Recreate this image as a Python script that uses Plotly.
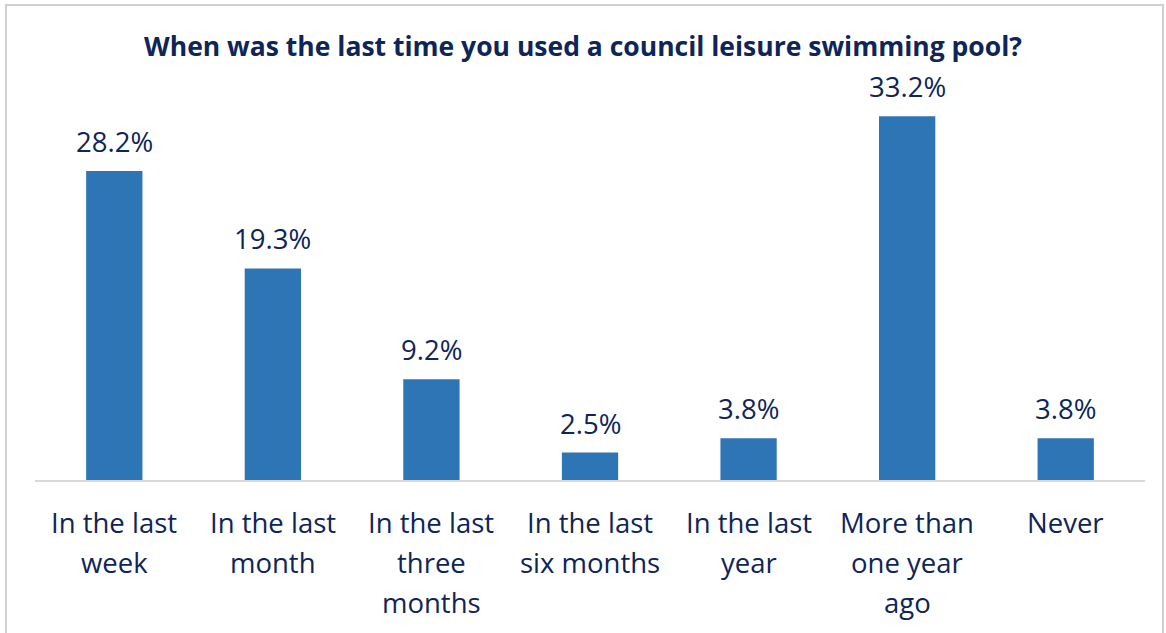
import plotly.graph_objects as go

categories = [
    "In the last week",
    "In the last month",
    "In the last three months",
    "In the last six months",
    "In the last year",
    "More than one year ago",
    "Never",
]
tick_lines = [
    ["In the last", "week"],
    ["In the last", "month"],
    ["In the last", "three", "months"],
    ["In the last", "six months"],
    ["In the last", "year"],
    ["More than", "one year", "ago"],
    ["Never"],
]
values = [28.2, 19.3, 9.2, 2.5, 3.8, 33.2, 3.8]

W, H = 1166, 633
ML, MR, MT, MB = 35, 21, 80, 153
NAVY = "#0E2557"
FONT = "Open Sans"

fig = go.Figure(
    go.Bar(
        x=categories,
        y=values,
        marker=dict(color="#2E75B6", line=dict(width=0)),
        width=0.355,
        hoverinfo="skip",
    )
)

# value labels above the bars
for c, v in zip(categories, values):
    fig.add_annotation(
        x=c, y=v, text=f"{v:.1f}%", showarrow=False,
        yanchor="bottom", yshift=9,
        font=dict(family=FONT, size=27.5, color=NAVY),
    )

# category labels, one annotation per line for wider line spacing
for c, lines in zip(categories, tick_lines):
    for i, line in enumerate(lines):
        fig.add_annotation(
            x=c, y=0, yref="y", text=line, showarrow=False,
            yanchor="middle", yshift=-42 - 40 * i,
            font=dict(family=FONT, size=27.5, color=NAVY),
        )

pw = W - ML - MR
ph = H - MT - MB
# outer chart frame
fig.add_shape(
    type="rect", xref="paper", yref="paper",
    x0=(6 - ML) / pw, x1=(1163 - ML) / pw,
    y0=-(H + 10 - MT - ph) / ph, y1=(MT - 5 + ph) / ph,
    line=dict(color="#D0D0D0", width=2), fillcolor="rgba(0,0,0,0)",
    layer="below",
)

fig.update_layout(
    width=W, height=H,
    margin=dict(l=ML, r=MR, t=MT, b=MB),
    paper_bgcolor="white", plot_bgcolor="white",
    title=dict(
        text="<b>When was the last time you used a council leisure swimming pool?</b>",
        x=0.5, xanchor="center", y=1 - 47 / H, yanchor="middle",
        font=dict(family=FONT, size=26.5, color=NAVY),
    ),
    xaxis=dict(
        showticklabels=False, showgrid=False, zeroline=False,
        showline=True, linecolor="#D9D9D9", linewidth=2,
        range=[-0.5, 6.5],
    ),
    yaxis=dict(visible=False, range=[0, ph / 10.96]),
    showlegend=False,
    bargap=0.65,
)

fig.write_html("out.html")
